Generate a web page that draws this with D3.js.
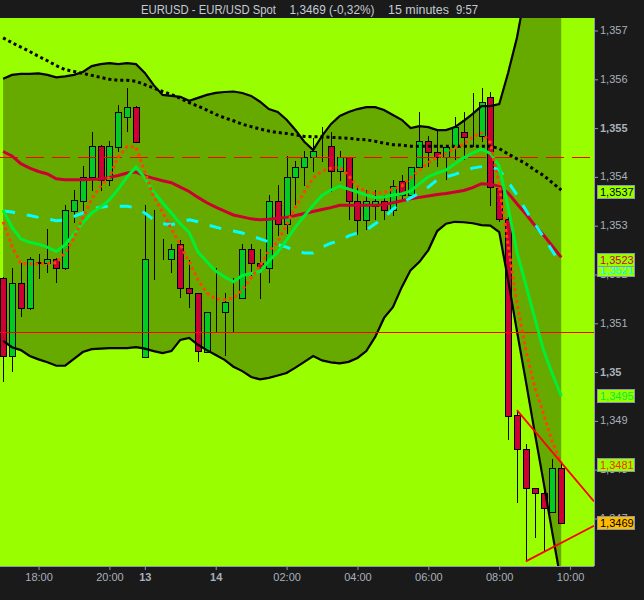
<!DOCTYPE html>
<html><head><meta charset="utf-8">
<script src="https://cdn.jsdelivr.net/npm/d3@7"></script>
<style>
html,body{margin:0;padding:0;background:#1a1a1a;}
svg{display:block;}
text{font-family:"Liberation Sans",Arial,sans-serif;}
</style></head><body>
<svg id="c" width="644" height="600"></svg>
<script>
// ---- DATA (EUR/USD, 15-minute candles) ----
const open=[1.35191,1.35031,1.35181,1.35131,1.35224,1.35222,1.35230,1.35212,1.35330,1.35350,
1.35399,1.35462,1.35393,1.35461,1.35521,1.35542,1.35030,1.35231,1.35231,1.35230,
1.35262,1.35171,1.35161,1.35041,1.35123,1.35122,1.35143,1.35150,1.35251,1.35222,
1.35212,1.35350,1.35303,1.35399,1.35420,1.35440,1.35462,1.35462,1.35412,1.35440,
1.35350,1.35311,1.35339,1.35350,1.35331,1.35391,1.35362,1.35420,1.35472,1.35451,
1.35440,1.35460,1.35490,1.35483,1.35483,1.35562,1.35376,1.35312,1.34911,1.34841,
1.34761,1.34751,1.34712,1.34802];
const high=[1.35194,1.35212,1.35222,1.35235,1.35241,1.35292,1.35233,1.35341,1.35372,1.35421,
1.35492,1.35464,1.35473,1.35546,1.35581,1.35544,1.35341,1.35331,1.35272,1.35262,
1.35270,1.35229,1.35161,1.35122,1.35212,1.35161,1.35191,1.35262,1.35262,1.35251,
1.35362,1.35382,1.35442,1.35432,1.35452,1.35479,1.35501,1.35490,1.35452,1.35440,
1.35382,1.35372,1.35372,1.35362,1.35393,1.35403,1.35420,1.35531,1.35483,1.35495,
1.35460,1.35521,1.35531,1.35571,1.35581,1.35572,1.35376,1.35317,1.34921,1.34852,
1.34761,1.34762,1.34820,1.34813];
const low=[1.34979,1.35000,1.35111,1.35126,1.35190,1.35202,1.35181,1.35208,1.35304,1.35326,
1.35370,1.35370,1.35380,1.35451,1.35490,1.35470,1.35028,1.35188,1.35229,1.35202,
1.35150,1.35131,1.35020,1.35041,1.35081,1.35031,1.35081,1.35150,1.35195,1.35149,
1.35181,1.35277,1.35282,1.35341,1.35380,1.35410,1.35430,1.35369,1.35391,1.35311,
1.35280,1.35290,1.35311,1.35311,1.35318,1.35352,1.35352,1.35420,1.35420,1.35420,
1.35393,1.35434,1.35434,1.35461,1.35471,1.35340,1.35306,1.34860,1.34730,1.34611,
1.34660,1.34631,1.34712,1.34690];
const close=[1.35031,1.35181,1.35131,1.35230,1.35223,1.35230,1.35212,1.35331,1.35352,1.35399,
1.35462,1.35393,1.35462,1.35532,1.35542,1.35471,1.35230,1.35231,1.35231,1.35251,
1.35171,1.35161,1.35043,1.35122,1.35123,1.35142,1.35143,1.35251,1.35222,1.35212,
1.35350,1.35302,1.35399,1.35420,1.35440,1.35452,1.35462,1.35412,1.35440,1.35350,
1.35311,1.35350,1.35350,1.35331,1.35381,1.35362,1.35420,1.35472,1.35451,1.35440,
1.35460,1.35501,1.35481,1.35483,1.35552,1.35379,1.35312,1.34910,1.34841,1.34761,
1.34751,1.34720,1.34802,1.34690];
const upperBand=[1.35600,1.35608,1.35610,1.35610,1.35611,1.35608,1.35603,1.35605,1.35608,1.35614,
1.35626,1.35630,1.35632,1.35630,1.35632,1.35630,1.35612,1.35587,1.35567,1.35565,
1.35563,1.35555,1.35561,1.35567,1.35571,1.35573,1.35574,1.35571,1.35565,1.35553,
1.35538,1.35532,1.35516,1.35495,1.35471,1.35454,1.35483,1.35507,1.35524,1.35532,
1.35538,1.35542,1.35542,1.35536,1.35526,1.35516,1.35499,1.35503,1.35501,1.35495,
1.35495,1.35501,1.35514,1.35528,1.35544,1.35544,1.35548,1.35612,1.35684,1.35782,
1.35884,1.35977,1.36059,1.36130];
const lowerBand=[1.35063,1.35050,1.35044,1.35032,1.35025,1.35019,1.35012,1.35012,1.35026,1.35040,
1.35046,1.35047,1.35048,1.35048,1.35048,1.35050,1.35047,1.35042,1.35038,1.35042,
1.35065,1.35069,1.35055,1.35044,1.35034,1.35024,1.35010,1.35001,1.34989,1.34984,
1.34987,1.34992,1.34997,1.35008,1.35020,1.35032,1.35023,1.35019,1.35017,1.35020,
1.35028,1.35042,1.35071,1.35110,1.35132,1.35173,1.35208,1.35225,1.35249,1.35288,
1.35303,1.35307,1.35306,1.35304,1.35300,1.35299,1.35286,1.35188,1.35083,1.34981,
1.34876,1.34774,1.34669,1.34567];
const maSlow=[1.35684,1.35674,1.35665,1.35656,1.35646,1.35637,1.35627,1.35619,1.35615,1.35611,
1.35607,1.35603,1.35599,1.35597,1.35597,1.35595,1.35588,1.35581,1.35574,1.35568,
1.35560,1.35551,1.35544,1.35536,1.35527,1.35520,1.35514,1.35507,1.35502,1.35497,
1.35493,1.35490,1.35488,1.35485,1.35482,1.35481,1.35481,1.35480,1.35479,1.35478,
1.35476,1.35475,1.35472,1.35468,1.35465,1.35464,1.35462,1.35462,1.35462,1.35462,
1.35462,1.35462,1.35462,1.35462,1.35462,1.35462,1.35457,1.35446,1.35436,1.35426,
1.35413,1.35402,1.35387,1.35372];
const ma20=[1.35451,1.35442,1.35426,1.35417,1.35410,1.35405,1.35395,1.35393,1.35393,1.35393,
1.35394,1.35394,1.35398,1.35402,1.35407,1.35409,1.35401,1.35396,1.35391,1.35387,
1.35378,1.35369,1.35357,1.35346,1.35337,1.35329,1.35321,1.35317,1.35313,1.35311,
1.35312,1.35314,1.35316,1.35320,1.35324,1.35328,1.35332,1.35336,1.35341,1.35341,
1.35341,1.35341,1.35341,1.35342,1.35346,1.35350,1.35354,1.35357,1.35360,1.35363,
1.35365,1.35368,1.35371,1.35377,1.35385,1.35384,1.35380,1.35366,1.35344,1.35323,
1.35300,1.35280,1.35257,1.35234];
const ma10=[1.35331,1.35296,1.35272,1.35265,1.35261,1.35255,1.35246,1.35260,1.35282,1.35305,
1.35325,1.35337,1.35352,1.35374,1.35399,1.35419,1.35397,1.35368,1.35346,1.35325,
1.35303,1.35285,1.35245,1.35225,1.35206,1.35194,1.35184,1.35197,1.35201,1.35205,
1.35227,1.35245,1.35270,1.35296,1.35319,1.35341,1.35361,1.35372,1.35380,1.35374,
1.35368,1.35362,1.35357,1.35358,1.35362,1.35364,1.35370,1.35385,1.35399,1.35407,
1.35413,1.35426,1.35438,1.35448,1.35456,1.35447,1.35421,1.35337,1.35245,1.35178,
1.35110,1.35044,1.34995,1.34950];
const ma5=[1.35307,1.35257,1.35221,1.35221,1.35221,1.35222,1.35223,1.35243,1.35274,1.35315,
1.35354,1.35380,1.35399,1.35440,1.35461,1.35460,1.35409,1.35358,1.35327,1.35292,
1.35260,1.35225,1.35188,1.35161,1.35149,1.35147,1.35151,1.35167,1.35192,1.35217,
1.35247,1.35266,1.35301,1.35337,1.35368,1.35397,1.35411,1.35417,1.35419,1.35401,
1.35380,1.35368,1.35365,1.35367,1.35374,1.35380,1.35397,1.35413,1.35428,1.35439,
1.35447,1.35458,1.35466,1.35481,1.35489,1.35469,1.35382,1.35260,1.35141,1.35044,
1.34969,1.34913,1.34856,1.34813];
const maCyan=[1.35329,1.35327,1.35323,1.35320,1.35316,1.35313,1.35309,1.35311,1.35318,1.35325,
1.35333,1.35337,1.35339,1.35339,1.35339,1.35335,1.35325,1.35311,1.35303,1.35301,
1.35306,1.35311,1.35307,1.35301,1.35296,1.35291,1.35288,1.35284,1.35278,1.35272,
1.35266,1.35260,1.35255,1.35248,1.35243,1.35243,1.35255,1.35263,1.35268,1.35278,
1.35284,1.35290,1.35303,1.35315,1.35333,1.35346,1.35356,1.35366,1.35378,1.35393,
1.35399,1.35404,1.35411,1.35417,1.35420,1.35420,1.35413,1.35389,1.35362,1.35331,
1.35303,1.35276,1.35247,1.35219];
const levelSolid=1.35081;
const levelDashed=1.35439;
const trendA=[[58,1.34921],[66.7,1.34734]];
const trendB=[[59,1.34611],[66.7,1.34684]];
const yTicks=[1.347,1.348,1.349,1.350,1.351,1.352,1.353,1.354,1.355,1.356,1.357];
const yBold=[1.350,1.355];
const xTickIdx=[4,12,16,24,32,40,48,56,64];
const xTickLabels=["18:00","20:00","13","14","02:00","04:00","06:00","08:00","10:00"];
const xBold=["13","14"];
const lastValues=[1.3537,1.3521,1.3523,1.3495,1.3481,1.3469];
const titleParts=["EURUSD - EUR/USD Spot","1,3469 (-0,32%)","15 minutes","9:57"];

// ---- LAYOUT ----
const W=644,H=600,PL=0,PR=594,PT=18,PB=566;
const x=d3.scaleLinear().domain([0,64]).range([3.1,570.1]);
const y=d3.scaleLinear().domain([1.346016,1.357246]).range([PB,PT]);
const loc=d3.formatLocale({decimal:",",thousands:".",grouping:[3],currency:["",""]});
const fmtTick=loc.format(".3~f"), fmtLast=loc.format(".4f");

const svg=d3.select("#c");
svg.append("rect").attr("width",W).attr("height",H).attr("fill","#1a1a1a");
svg.append("rect").attr("x",PL).attr("y",PT).attr("width",PR-PL).attr("height",PB-PT).attr("fill","#99ff00");
svg.append("defs").append("clipPath").attr("id","clip").append("rect")
  .attr("x",PL).attr("y",PT).attr("width",PR-PL).attr("height",PB-PT);
const g=svg.append("g").attr("clip-path","url(#clip)");
const idx=d3.range(open.length);

// band fill
g.append("path").datum(idx)
  .attr("d",d3.area().x(i=>x(i)).y0(i=>y(lowerBand[i])).y1(i=>y(upperBand[i])))
  .attr("fill","#66aa00");

// candles
const cg=g.append("g").attr("shape-rendering","crispEdges");
idx.forEach(i=>{
  const xc=Math.round(x(i));
  cg.append("line").attr("x1",xc+0.5).attr("x2",xc+0.5)
    .attr("y1",y(high[i])).attr("y2",y(low[i])).attr("stroke","#000").attr("stroke-width",1);
  const yt=y(Math.max(open[i],close[i])), yb=y(Math.min(open[i],close[i]));
  cg.append("rect").attr("x",xc-2.5).attr("y",Math.round(yt)+0.5)
    .attr("width",6).attr("height",Math.max(0,Math.round(yb)-Math.round(yt)))
    .attr("fill",close[i]>=open[i]?"#00cc22":"#cc0033")
    .attr("stroke","#000").attr("stroke-width",1);
});

const line=arr=>d3.line().x(i=>x(i)).y(i=>y(arr[i]))(idx);
// bands
g.append("path").attr("d",line(upperBand)).attr("fill","none").attr("stroke","#000").attr("stroke-width",2.2);
g.append("path").attr("d",line(lowerBand)).attr("fill","none").attr("stroke","#000").attr("stroke-width",2.2);
g.append("path").attr("d",line(maSlow)).attr("fill","none").attr("stroke","#000").attr("stroke-width",3).attr("stroke-dasharray","3,3");
// horizontal levels
g.append("line").attr("x1",PL).attr("x2",PR).attr("y1",Math.round(y(levelSolid))+0.5).attr("y2",Math.round(y(levelSolid))+0.5).attr("stroke","#ff0000").attr("stroke-width",1);
g.append("line").attr("x1",PL).attr("x2",PR).attr("y1",Math.round(y(levelDashed))+0.5).attr("y2",Math.round(y(levelDashed))+0.5).attr("stroke","#ff0000").attr("stroke-width",1).attr("stroke-dasharray","18,8");
// moving averages
g.append("path").attr("d",line(ma20)).attr("fill","none").attr("stroke","#cc0033").attr("stroke-width",3);
g.append("path").attr("d",line(maCyan)).attr("fill","none").attr("stroke","#00ffff").attr("stroke-width",3).attr("stroke-dasharray","12,12");
g.append("path").attr("d",line(ma10)).attr("fill","none").attr("stroke","#00ee33").attr("stroke-width",3);
g.append("path").attr("d",line(ma5)).attr("fill","none").attr("stroke","#ff4400").attr("stroke-width",3).attr("stroke-dasharray","3,3");
// trend lines
[trendA,trendB].forEach(t=>{
  g.append("path").attr("d",d3.line().x(d=>x(d[0])).y(d=>y(d[1]))(t))
    .attr("fill","none").attr("stroke","#ff0000").attr("stroke-width",1.8);
});

// axes
const axCol="#8d99a6", txtCol="#a9b1ba";
svg.append("line").attr("x1",PL).attr("x2",PR).attr("y1",PB+0.5).attr("y2",PB+0.5).attr("stroke",axCol);
svg.append("line").attr("x1",PR+0.5).attr("x2",PR+0.5).attr("y1",PT).attr("y2",PB).attr("stroke",axCol);
const ya=svg.append("g").attr("transform",`translate(${PR},0)`)
  .call(d3.axisRight(y).tickValues(yTicks).tickFormat(fmtTick).tickSize(4).tickPadding(2));
ya.select(".domain").remove();
ya.selectAll("line").attr("stroke",axCol).attr("transform","translate(0,0.5)");
ya.selectAll("text").attr("fill",txtCol).style("font-size","11px")
  .style("font-weight",d=>yBold.some(b=>Math.abs(b-d)<1e-9)?"bold":"normal");
const xa=svg.append("g").attr("transform",`translate(0,${PB})`)
  .call(d3.axisBottom(x).tickValues(xTickIdx).tickFormat((d,i)=>xTickLabels[i]).tickSize(4).tickPadding(3));
xa.select(".domain").remove();
xa.selectAll("line").attr("stroke",axCol);
xa.selectAll("text").attr("fill",txtCol).style("font-size","11px")
  .style("font-weight",(d,i)=>xBold.includes(xTickLabels[i])?"bold":"normal");

// last value boxes
const boxBg=["#99ff00","#99ff00","#99ff00","#99ff00","#99ff00","#ffbb00"];
const boxFg=["#000000","#00ffff","#cc0033","#00ee33","#ff2a00","#000000"];
lastValues.forEach((v,k)=>{
  const yc=y(v);
  svg.append("rect").attr("x",597.5).attr("y",Math.round(yc-6.5)+0.5).attr("width",37).attr("height",13)
    .attr("fill",boxBg[k]).attr("stroke","#8d99a6").attr("stroke-width",1);
  svg.append("text").attr("x",600).attr("y",Math.round(yc-6.5)+11).text(fmtLast(v))
    .attr("fill",boxFg[k]).style("font-size","11px");
});

// title
const tpos=[[141,135],[289.5,85],[388,61],[456,22]];
titleParts.forEach((t,k)=>{
  svg.append("text").attr("x",tpos[k][0]).attr("y",14).text(t)
    .attr("textLength",tpos[k][1]).attr("lengthAdjust","spacingAndGlyphs")
    .attr("fill","#c3cbd3").style("font-size","12.5px")
    .style("font-family","'Liberation Sans Narrow','Liberation Sans',Arial,sans-serif");
});
</script>
</body></html>
